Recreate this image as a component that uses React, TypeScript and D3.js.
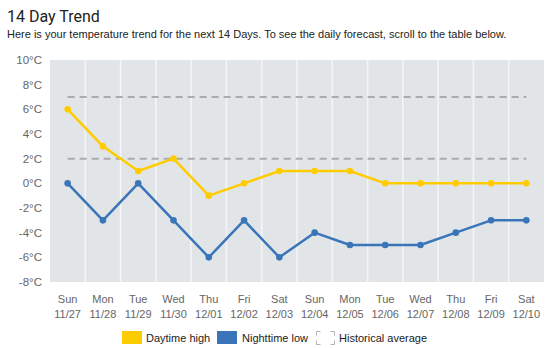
import React from "react";
import * as d3 from "d3";

const days = ["Sun", "Mon", "Tue", "Wed", "Thu", "Fri", "Sat", "Sun", "Mon", "Tue", "Wed", "Thu", "Fri", "Sat"];
const dates = ["11/27", "11/28", "11/29", "11/30", "12/01", "12/02", "12/03", "12/04", "12/05", "12/06", "12/07", "12/08", "12/09", "12/10"];
const highs = [6, 3, 1, 2, -1, 0, 1, 1, 1, 0, 0, 0, 0, 0];
const lows = [0, -3, 0, -3, -6, -3, -6, -4, -5, -5, -5, -4, -3, -3];
const historical = [7, 2];
const yTicks = [10, 8, 6, 4, 2, 0, -2, -4, -6, -8];

const W = 554;
const H = 348;
const plot = { left: 50, right: 544, top: 60, bottom: 282 };
const FONT = "'Liberation Sans', Arial, Helvetica, sans-serif";
const YELLOW = "#ffcc00";
const BLUE = "#3a75b9";

export default function App() {
  const x = d3
    .scaleBand<number>()
    .domain(d3.range(days.length))
    .range([plot.left, plot.right]);
  const y = d3.scaleLinear().domain([-8, 10]).range([plot.bottom, plot.top]);
  const cx = (i: number) => (x(i) as number) + x.bandwidth() / 2;

  const line = d3
    .line<number>()
    .x((_, i) => cx(i))
    .y((d) => y(d));

  const series = [
    { values: highs, color: YELLOW },
    { values: lows, color: BLUE },
  ];

  return (
    <svg
      width={W}
      height={H}
      style={{ position: "absolute", left: 0, top: 0, background: "#fff" }}
      fontFamily={FONT}
    >
      <text x={7} y={22} fontSize={16} fill="#222" fontFamily="Roboto, sans-serif">14 Day Trend</text>
      <text x={7} y={38} fontSize={11} fill="#222">
        Here is your temperature trend for the next 14 Days. To see the daily forecast, scroll to the table below.
      </text>

      {/* plot background and day separators */}
      <rect
        x={plot.left}
        y={plot.top}
        width={plot.right - plot.left}
        height={plot.bottom - plot.top}
        fill="#e2e5e8"
      />
      {d3.range(1, days.length).map((i) => (
        <line
          key={i}
          x1={x(i)}
          x2={x(i)}
          y1={plot.top}
          y2={plot.bottom}
          stroke="#f4f5f6"
          strokeWidth={1.5}
        />
      ))}

      {yTicks.map((t) => (
        <text key={t} x={42} y={y(t) + 4} fontSize={11.5} fill="#666" textAnchor="end">
          {t}°C
        </text>
      ))}

      {days.map((d, i) => (
        <g key={i} fontSize={11} fill="#666" textAnchor="middle">
          <text x={cx(i)} y={303}>{d}</text>
          <text x={cx(i)} y={318}>{dates[i]}</text>
        </g>
      ))}

      {historical.map((v) => (
        <line
          key={v}
          x1={cx(0)}
          x2={cx(days.length - 1)}
          y1={y(v)}
          y2={y(v)}
          stroke="#a9abad"
          strokeWidth={2}
          strokeDasharray="7,5"
        />
      ))}

      {series.map((s, k) => (
        <g key={k}>
          <path d={line(s.values) || ""} fill="none" stroke={s.color} strokeWidth={2.5} strokeLinejoin="round" />
          {s.values.map((v, i) => (
            <circle key={i} cx={cx(i)} cy={y(v)} r={3.3} fill={s.color} />
          ))}
        </g>
      ))}

      {/* legend */}
      <g fontSize={11} fill="#222">
        <rect x={122} y={331} width={20} height={13} fill={YELLOW} />
        <text x={146} y={341.5}>Daytime high</text>
        <rect x={217} y={331} width={20} height={13} fill={BLUE} />
        <text x={242} y={341.5}>Nighttime low</text>
        <rect
          x={316.5}
          y={331.5}
          width={18}
          height={13}
          fill="none"
          stroke="#b0b2b4"
          strokeWidth={1}
          strokeDasharray="4,10,8,5,8,10,8,5,4,0"
        />
        <text x={339} y={341.5}>Historical average</text>
      </g>
    </svg>
  );
}
